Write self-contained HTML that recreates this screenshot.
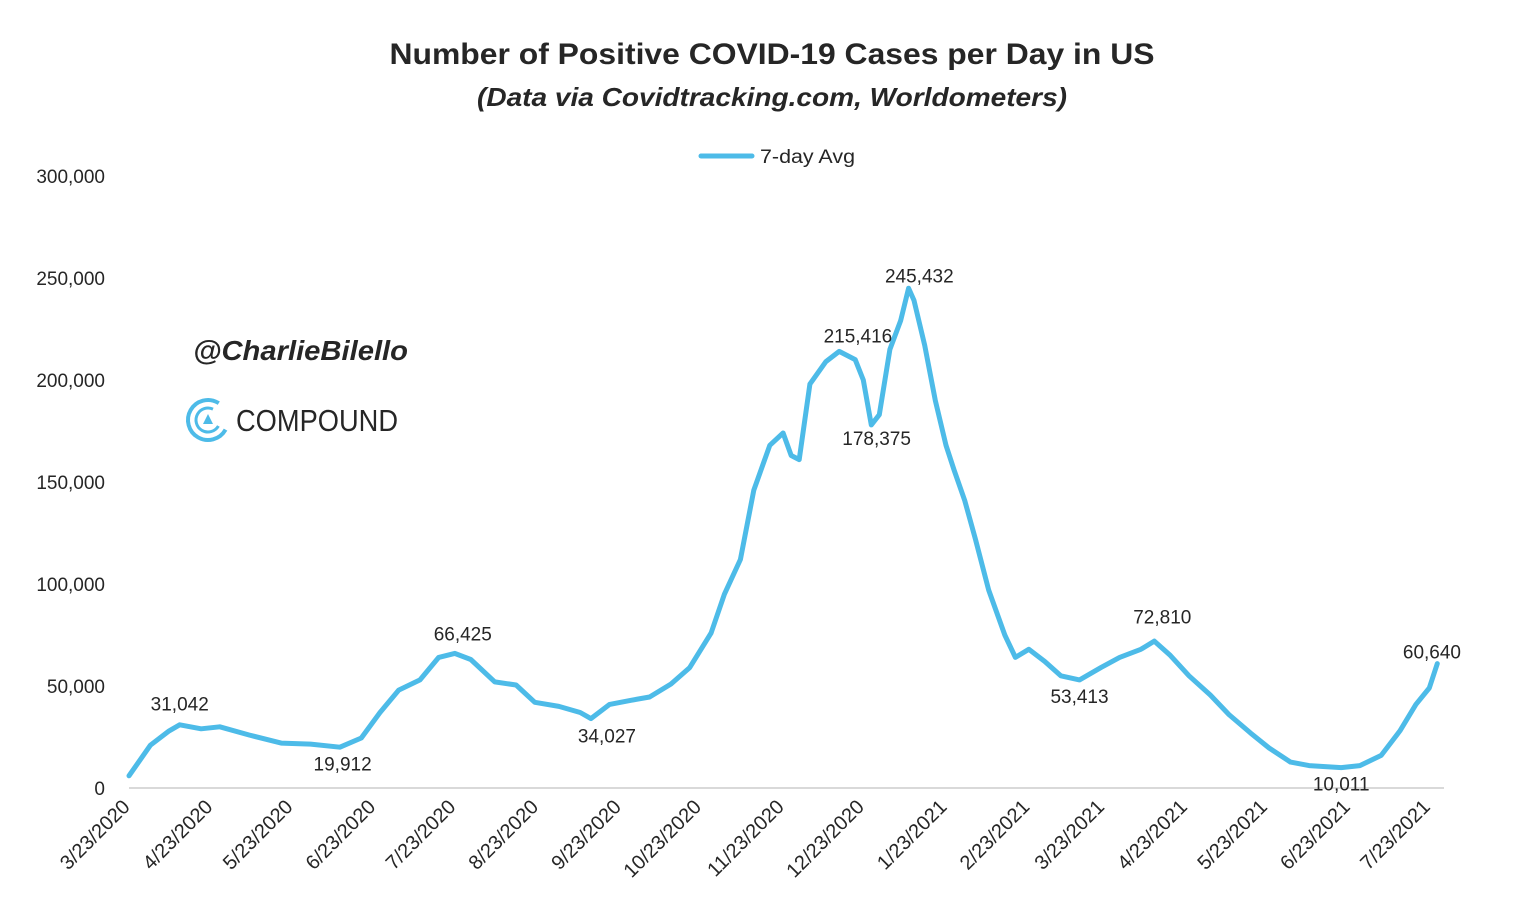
<!DOCTYPE html>
<html><head><meta charset="utf-8"><style>
body{margin:0;background:#fff;}
svg text{font-family:"Liberation Sans",sans-serif;fill:#262626;}
</style></head><body>
<svg width="1514" height="914">
<text x="772" y="64" text-anchor="middle" font-size="30" font-weight="bold" textLength="765" lengthAdjust="spacingAndGlyphs">Number of Positive COVID-19 Cases per Day in US</text>
<text x="772" y="106" text-anchor="middle" font-size="26" font-weight="bold" font-style="italic" textLength="590" lengthAdjust="spacingAndGlyphs">(Data via Covidtracking.com, Worldometers)</text>
<g>
<line x1="701" y1="156" x2="752" y2="156" stroke="#4dbbe8" stroke-width="5" stroke-linecap="round"/>
<text x="760" y="163" font-size="19" textLength="95" lengthAdjust="spacingAndGlyphs">7-day Avg</text>
</g>
<g>
<text x="193" y="360" font-size="28" font-weight="bold" font-style="italic" fill="#222" textLength="215" lengthAdjust="spacingAndGlyphs">@CharlieBilello</text>
<circle cx="208" cy="420" r="20" fill="none" stroke="#4dbbe8" stroke-width="4" stroke-dasharray="95 30" transform="rotate(30 208 420)"/>
<circle cx="208" cy="420" r="12" fill="none" stroke="#4dbbe8" stroke-width="3" stroke-dasharray="55 20" transform="rotate(30 208 420)"/>
<polygon points="208,414 213,424 203,424" fill="#4dbbe8"/>
<text x="236" y="431" font-size="31" fill="#2d3a55" textLength="162" lengthAdjust="spacingAndGlyphs">COMPOUND</text>
</g>
<g id="yaxis"></g>
<g id="xaxis"></g>
<g id="plot"></g>
</svg>
<script>
const days=[0,8,15,19,27,34,45,57,68,79,87,94,101,109,116,122,128,137,145,152,161,169,173,180,188,195,203,210,218,223,229,234,240,245,248,251,255,261,266,272,275,278,281,285,289,292,294,298,302,306,309,313,317,322,328,332,337,343,349,356,364,371,379,384,390,397,405,412,420,427,435,442,454,461,469,476,482,487,490];
const values=[6000,21000,28000,31000,29000,30000,26000,22000,21500,20000,24500,37000,48000,53000,64000,66000,63000,52000,50500,42000,40000,37000,34000,41000,43000,44600,51000,59000,76000,95000,112000,146000,168000,174000,163000,161000,198000,209000,214000,210000,200000,178000,183000,215000,229000,245000,239000,217000,190000,168000,156000,141000,122000,97000,75000,64000,68000,62000,55000,53000,59000,64000,68000,72000,65000,55000,45600,36000,27000,19600,12700,11000,10000,11000,16000,28000,41000,49000,61000];
const yTicks=[0,50000,100000,150000,200000,250000,300000];
const xTickLabels=["3/23/2020","4/23/2020","5/23/2020","6/23/2020","7/23/2020","8/23/2020","9/23/2020","10/23/2020","11/23/2020","12/23/2020","1/23/2021","2/23/2021","3/23/2021","4/23/2021","5/23/2021","6/23/2021","7/23/2021"];
const xTickDays=[0,31,61,92,122,153,184,214,245,275,306,337,365,396,426,457,487];
const annoText=["31,042","19,912","66,425","34,027","215,416","245,432","178,375","53,413","72,810","10,011","60,640"];
const annoDay=[19,80,125,179,273,296,280,356,387,454,488];
const annoVal=[31042,19912,66425,34027,215416,245432,178375,53413,72810,10011,60640];
const annoDy=[-14,23,-12,24,-6,-5,21,24,-16,23,-6];
const NS="http://www.w3.org/2000/svg";
const X=d=>129+2.67*d, Y=v=>788-v*0.00204;
function mk(t,a,p){const e=document.createElementNS(NS,t);for(const k in a)e.setAttribute(k,a[k]);p.appendChild(e);return e;}
const ya=document.getElementById('yaxis'),xa=document.getElementById('xaxis'),pl=document.getElementById('plot');
mk('line',{x1:129,y1:788,x2:1444,y2:788,stroke:'#d9d9d9','stroke-width':2},xa);
yTicks.forEach(v=>{const t=mk('text',{x:105,y:Y(v)+7,'text-anchor':'end','font-size':19},ya);t.textContent=v.toLocaleString('en-US');

});
xTickLabels.forEach((s,i)=>{const x=X(xTickDays[i]);const t=mk('text',{x:x+2,y:808,'text-anchor':'end','font-size':20,transform:`rotate(-45 ${x+2} 808)`},xa);t.textContent=s;

});
const line=mk('polyline',{points:days.map((d,i)=>X(d).toFixed(1)+','+Y(values[i]).toFixed(1)).join(' '),fill:'none',stroke:'#4dbbe8','stroke-width':5,'stroke-linejoin':'round','stroke-linecap':'round'},pl);


annoText.forEach((s,i)=>{const t=mk('text',{x:X(annoDay[i]),y:Y(annoVal[i])+annoDy[i],'text-anchor':'middle','font-size':19},pl);t.textContent=s;

});
</script>
</body></html>
